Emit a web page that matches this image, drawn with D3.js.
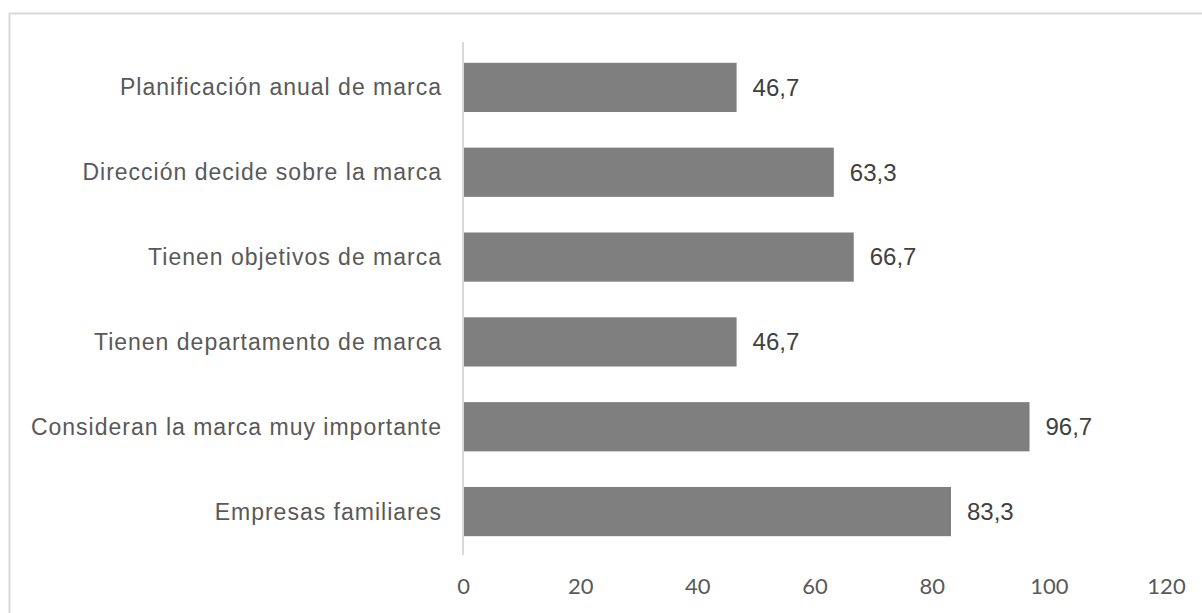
<!DOCTYPE html>
<html><head><meta charset="utf-8">
<script src="https://cdn.jsdelivr.net/npm/d3@7"></script>
<style>html,body{margin:0;padding:0;background:#fff;}</style>
</head><body>
<svg id="c" width="1202" height="613"></svg>
<script>
const categories = ["Planificación anual de marca","Dirección decide sobre la marca","Tienen objetivos de marca","Tienen departamento de marca","Consideran la marca muy importante","Empresas familiares"];
const values = [46.7, 63.3, 66.7, 46.7, 96.7, 83.3];
const tickValues = [0, 20, 40, 60, 80, 100, 120];

const svg = d3.select("#c");
const m = {left: 463, right: 1202-1166, top: 45, bottom: 613-554};
const W = 1202, H = 613;

// frame
svg.append("rect").attr("x", 9.5).attr("y", 13.5).attr("width", 1300).attr("height", 700)
  .attr("fill", "none").attr("stroke", "#d9d9d9").attr("stroke-width", 2);

const x = d3.scaleLinear().domain([0, 120]).range([m.left, W - m.right]);
const y = d3.scaleBand().domain(categories).range([m.top, H - m.bottom]).paddingInner(0.42).paddingOuter(0.21);

// bars
svg.append("g").selectAll("rect").data(categories).join("rect")
  .attr("x", x(0)).attr("y", d => y(d))
  .attr("width", (d, i) => x(values[i]) - x(0)).attr("height", y.bandwidth())
  .attr("fill", "#7f7f7f");

// vertical axis line
svg.append("line").attr("x1", x(0)).attr("x2", x(0)).attr("y1", 42).attr("y2", 555)
  .attr("stroke", "#d9d9d9").attr("stroke-width", 2);

// category labels
svg.append("g").selectAll("text").data(categories).join("text")
  .attr("x", x(0) - 21).attr("y", d => y(d) + y.bandwidth() / 2)
  .attr("dy", "0.35em").attr("text-anchor", "end")
  .style("font-family", "'Liberation Sans', Arial, sans-serif").style("font-size", "23px")
  .style("letter-spacing", "1px").attr("fill", "#595959")
  .text(d => d);

// value labels
svg.append("g").selectAll("text").data(categories).join("text")
  .attr("x", (d, i) => x(values[i]) + 16).attr("y", d => y(d) + y.bandwidth() / 2)
  .attr("dy", "0.35em")
  .style("font-family", "'Liberation Sans', Arial, sans-serif").style("font-size", "24px")
  .attr("fill", "#404040")
  .text((d, i) => d3.format(".1f")(values[i]).replace(".", ","));

// x axis ticks
const xAxis = d3.axisBottom(x).tickValues(tickValues).tickSize(0).tickPadding(0).tickFormat(d3.format("d"));
const gx = svg.append("g").attr("transform", "translate(0,586)").call(xAxis);
gx.select(".domain").remove();
gx.selectAll("text").attr("dy", "0.35em").attr("y", 0)
  .style("font-family", "Lato, 'Open Sans', sans-serif").style("font-size", "22px").attr("fill", "#595959");
</script>
</body></html>
